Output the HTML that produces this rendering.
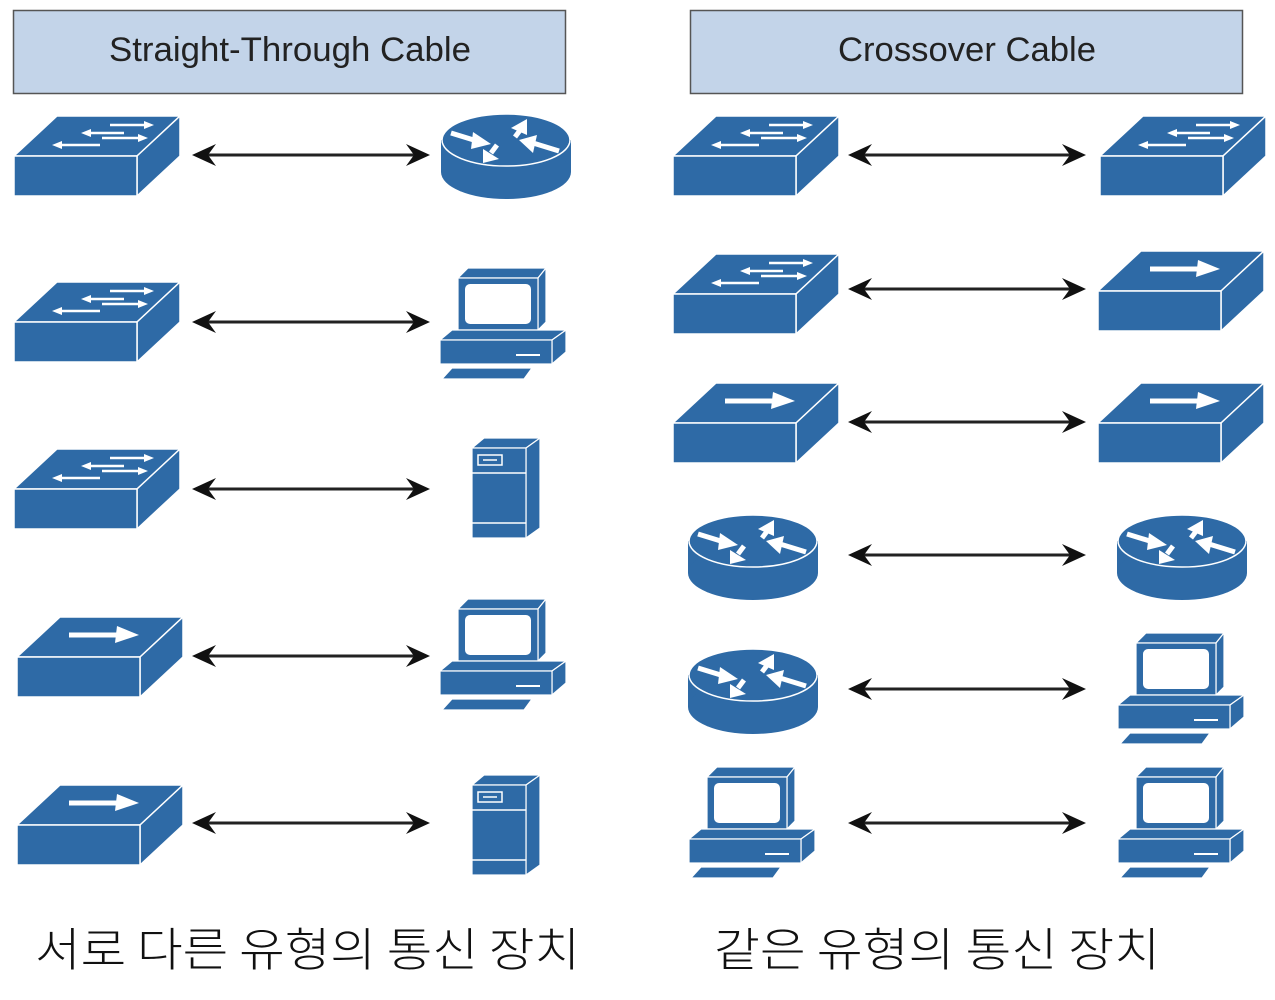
<!DOCTYPE html>
<html><head><meta charset="utf-8"><style>
html,body{margin:0;padding:0;background:#fff;width:1275px;height:1000px;overflow:hidden}
svg{display:block}
</style></head><body>
<svg width="1275" height="1000" viewBox="0 0 1275 1000" xmlns="http://www.w3.org/2000/svg">
<defs>
<g id="sw">
 <polygon points="0,40 43,0 166,0 123,40" fill="#2e6aa6" stroke="#fff" stroke-width="1.5"/>
 <polygon points="123,40 166,0 166,40 123,80" fill="#2e6aa6" stroke="#fff" stroke-width="1.5"/>
 <rect x="0" y="40" width="123" height="40" fill="#2e6aa6" stroke="#fff" stroke-width="1.5"/>
 <g stroke="#fff" stroke-width="2.5" fill="#fff">
  <line x1="96" y1="9" x2="130" y2="9"/><polygon points="130,5 140,9 130,13" stroke="none"/>
  <line x1="77" y1="17" x2="110" y2="17"/><polygon points="77,13 67,17 77,21" stroke="none"/>
  <line x1="88" y1="22" x2="124" y2="22"/><polygon points="124,18 134,22 124,26" stroke="none"/>
  <line x1="48" y1="29" x2="86" y2="29"/><polygon points="48,25 38,29 48,33" stroke="none"/>
 </g>
</g>
<g id="l3">
 <polygon points="0,40 43,0 166,0 123,40" fill="#2e6aa6" stroke="#fff" stroke-width="1.5"/>
 <polygon points="123,40 166,0 166,40 123,80" fill="#2e6aa6" stroke="#fff" stroke-width="1.5"/>
 <rect x="0" y="40" width="123" height="40" fill="#2e6aa6" stroke="#fff" stroke-width="1.5"/>
 <line x1="52" y1="18" x2="104" y2="18" stroke="#fff" stroke-width="5"/>
 <polygon points="100,9 122,18 98,26" fill="#fff"/>
</g>
<g id="rt">
 <rect x="0" y="27" width="130" height="32" fill="#2e6aa6"/>
 <ellipse cx="65" cy="59" rx="65" ry="27" fill="#2e6aa6"/>
 <ellipse cx="65" cy="27" rx="64" ry="26" fill="#2e6aa6" stroke="#fff" stroke-width="1.5"/>
 <g fill="#fff" stroke="#fff" stroke-width="5">
  <line x1="10" y1="20" x2="36" y2="28"/><polygon points="32,19 50,31 30,36" stroke="none"/>
  <line x1="74" y1="24" x2="80" y2="16"/><polygon points="70,15 86,6 86,22" stroke="none"/>
  <line x1="118" y1="38" x2="92" y2="30"/><polygon points="96,22 78,27 92,40" stroke="none"/>
  <line x1="56" y1="32" x2="50" y2="40"/><polygon points="42,36 42,50 58,46" stroke="none"/>
 </g>
</g>
<g id="pc">
 <polygon points="18,12 28,2 106,2 98,12" fill="#2e6aa6" stroke="#fff" stroke-width="1.2"/>
 <polygon points="98,12 106,2 106,56 98,64" fill="#2e6aa6" stroke="#fff" stroke-width="1.2"/>
 <rect x="18" y="12" width="80" height="52" fill="#2e6aa6" stroke="#fff" stroke-width="1.2"/>
 <rect x="25" y="18" width="66" height="40" rx="5" fill="#fff"/>
 <polygon points="0,74 12,64 126,64 112,74" fill="#2e6aa6" stroke="#fff" stroke-width="1.2"/>
 <polygon points="112,74 126,64 126,86 112,98" fill="#2e6aa6" stroke="#fff" stroke-width="1.2"/>
 <rect x="0" y="74" width="112" height="24" fill="#2e6aa6" stroke="#fff" stroke-width="1.2"/>
 <line x1="76" y1="89" x2="100" y2="89" stroke="#fff" stroke-width="2"/>
 <polygon points="2,113 12,102 92,102 84,113" fill="#2e6aa6" stroke="#fff" stroke-width="1.2"/>
</g>
<g id="sv">
 <polygon points="2,12 14,2 70,2 56,12" fill="#2e6aa6" stroke="#fff" stroke-width="1.2"/>
 <polygon points="56,12 70,2 70,92 56,102" fill="#2e6aa6" stroke="#fff" stroke-width="1.2"/>
 <rect x="2" y="12" width="54" height="90" fill="#2e6aa6" stroke="#fff" stroke-width="1.2"/>
 <line x1="2" y1="37" x2="56" y2="37" stroke="#fff" stroke-width="1.5"/>
 <line x1="2" y1="87" x2="56" y2="87" stroke="#fff" stroke-width="1.5"/>
 <rect x="8" y="19" width="24" height="10" fill="none" stroke="#fff" stroke-width="1.5"/>
 <line x1="13" y1="24" x2="27" y2="24" stroke="#fff" stroke-width="1.5"/>
</g>
<g id="ar">
 <line x1="10" y1="0" x2="228" y2="0" stroke="#222" stroke-width="3"/>
 <polygon points="0,0 24,-11 16,0 24,11" fill="#111"/>
 <polygon points="238,0 214,-11 222,0 214,11" fill="#111"/>
</g>
</defs>

<rect x="13.5" y="10.5" width="552" height="83" fill="#c3d4e9" stroke="#555" stroke-width="1.5"/>
<rect x="690.5" y="10.5" width="552" height="83" fill="#c3d4e9" stroke="#555" stroke-width="1.5"/>
<text x="290" y="61" text-anchor="middle" font-family="Liberation Sans, sans-serif" font-size="34.5" fill="#222" textLength="362" lengthAdjust="spacingAndGlyphs">Straight-Through Cable</text>
<text x="967" y="61" text-anchor="middle" font-family="Liberation Sans, sans-serif" font-size="34.5" fill="#222" textLength="258" lengthAdjust="spacingAndGlyphs">Crossover Cable</text>

<use href="#sw" x="14" y="116"/><use href="#ar" x="192" y="155"/><use href="#rt" x="441" y="113"/>
<use href="#sw" x="14" y="282"/><use href="#ar" x="192" y="322"/><use href="#pc" x="440" y="266"/>
<use href="#sw" x="14" y="449"/><use href="#ar" x="192" y="489"/><use href="#sv" x="470" y="436"/>
<use href="#l3" x="17" y="617"/><use href="#ar" x="192" y="656"/><use href="#pc" x="440" y="597"/>
<use href="#l3" x="17" y="785"/><use href="#ar" x="192" y="823"/><use href="#sv" x="470" y="773"/>

<use href="#sw" x="673" y="116"/><use href="#ar" x="848" y="155"/><use href="#sw" x="1100" y="116"/>
<use href="#sw" x="673" y="254"/><use href="#ar" x="848" y="289"/><use href="#l3" x="1098" y="251"/>
<use href="#l3" x="673" y="383"/><use href="#ar" x="848" y="422"/><use href="#l3" x="1098" y="383"/>
<use href="#rt" x="688" y="514"/><use href="#ar" x="848" y="555"/><use href="#rt" x="1117" y="514"/>
<use href="#rt" x="688" y="648"/><use href="#ar" x="848" y="689"/><use href="#pc" x="1118" y="631"/>
<use href="#pc" x="689" y="765"/><use href="#ar" x="848" y="823"/><use href="#pc" x="1118" y="765"/>

<text x="35" y="966" font-family="'Noto Sans CJK KR', sans-serif" font-size="46" font-weight="300" fill="#111" textLength="545" lengthAdjust="spacingAndGlyphs">서로 다른 유형의 통신 장치</text>
<text x="714" y="966" font-family="'Noto Sans CJK KR', sans-serif" font-size="46" font-weight="300" fill="#111" textLength="446" lengthAdjust="spacingAndGlyphs">같은 유형의 통신 장치</text>
</svg>
</body></html>
